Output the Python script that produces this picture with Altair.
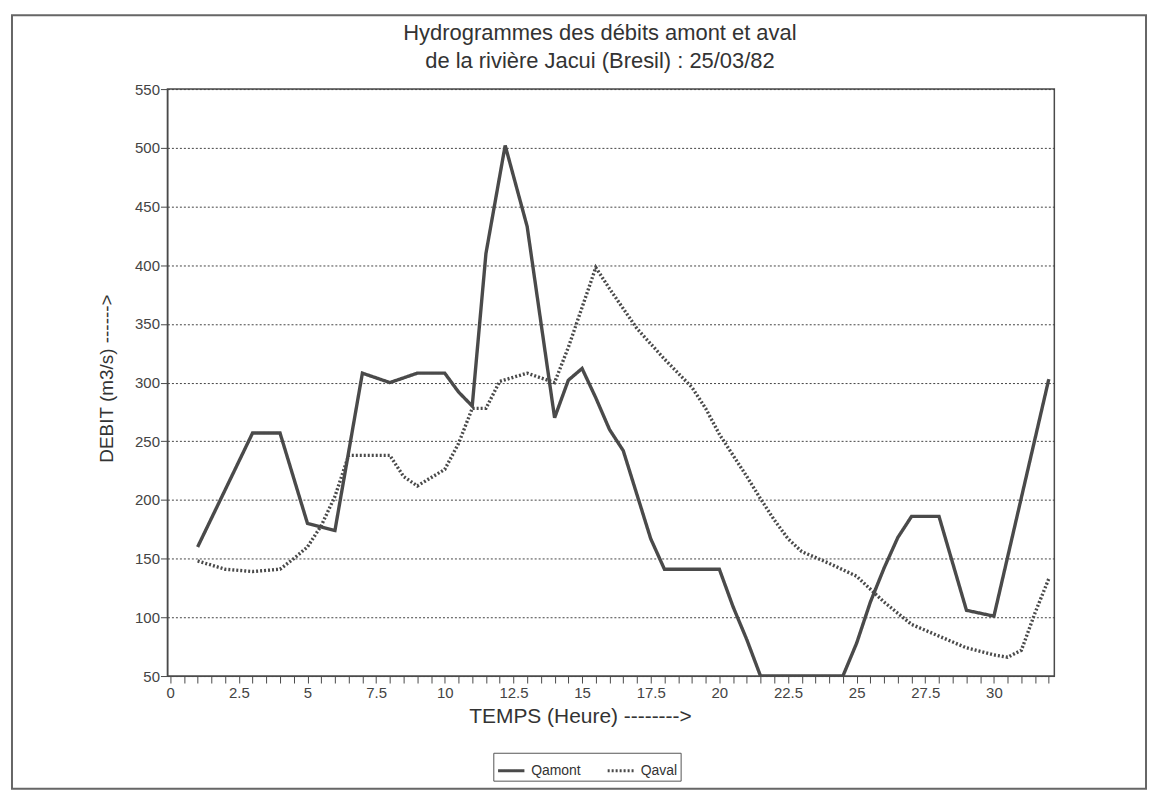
import altair as alt
import pandas as pd

# ---- data ----
amont_t = [1, 3, 4, 5, 6, 7, 8, 9, 10, 10.5, 11, 11.5, 12.2, 13, 14, 14.5, 15, 15.5,
           16, 16.5, 17.5, 18, 20, 20.5, 21, 21.5, 24.5, 25, 25.5, 26, 26.5, 27, 28,
           29, 30, 32]
amont_q = [160, 257, 257, 180, 174, 308, 300, 308, 308, 292, 280, 410, 502, 433, 270, 302, 312, 287,
           260, 242, 167, 141, 141, 109, 81, 50, 50, 78, 113, 142, 168, 186, 186,
           106, 101, 303]

aval_t = [1, 2, 3, 4, 4.5, 5, 5.5, 6, 6.5, 8, 8.5, 9, 10, 10.5, 11, 11.5, 12, 13, 14,
          14.5, 15, 15.5, 16, 17, 18, 19, 19.5, 20, 20.5, 21, 21.5, 22, 22.5, 23, 24,
          25, 25.5, 26, 27, 28, 29, 30, 30.5, 31, 31.5, 32]
aval_q = [148, 141, 139, 141, 150, 160, 178, 203, 238, 238, 220, 212, 226, 248, 278, 278, 301, 308, 300,
          330, 364, 398, 380, 346, 320, 296, 278, 256, 238, 220, 201, 183, 167, 156, 146,
          135, 124, 113, 94, 84, 74, 68, 66, 72, 104, 133]

series_names = ["Qamont", "Qaval"]
y_ticks = [50, 100, 150, 200, 250, 300, 350, 400, 450, 500, 550]
x_ticks = [i * 0.5 for i in range(0, 65)]

title_lines = ["Hydrogrammes des débits amont et aval",
               "de la rivière Jacui (Bresil) : 25/03/82"]
x_title = "TEMPS (Heure)    -------->"
y_title = "DEBIT (m3/s)   ------>"

rows = []
for t, q in zip(amont_t, amont_q):
    rows.append({"t": t, "q": q, "serie": series_names[0]})
for t, q in zip(aval_t, aval_q):
    rows.append({"t": t, "q": q, "serie": series_names[1]})
df = pd.DataFrame(rows)

FONT = "Liberation Sans"
INK = "#4a4a4a"

lines = alt.Chart(df).mark_line(strokeWidth=3.4, color=INK, clip=True).encode(
    x=alt.X("t:Q",
            scale=alt.Scale(domain=[-0.1, 32.2], nice=False, zero=False),
            axis=alt.Axis(values=x_ticks, title=x_title,
                          labelExpr="datum.value % 2.5 === 0 ? format(datum.value, '~g') : ''",
                          labelOverlap=False, labelFlush=False, grid=False,
                          tickSize=7, labelPadding=3, labelFontSize=15,
                          titleFontSize=21, titleFontWeight="normal",
                          titleX=414, titleY=41, titleBaseline="middle",
                          domainColor=INK, tickColor=INK, labelColor="#444",
                          titleColor="#333")),
    y=alt.Y("q:Q",
            scale=alt.Scale(domain=[50, 550], nice=False, zero=False),
            axis=alt.Axis(values=y_ticks, title=y_title,
                          grid=True, gridDash=[2, 2], gridColor="#444", gridWidth=1,
                          tickSize=7, labelPadding=1, labelFontSize=15,
                          titleFontSize=19, titleFontWeight="normal",
                          titleX=-61, titleY=290, titleAngle=-90,
                          titleAlign="center", titleBaseline="middle",
                          domainColor=INK, tickColor=INK, labelColor="#444",
                          titleColor="#333")),
    strokeDash=alt.StrokeDash("serie:N",
                              scale=alt.Scale(domain=series_names, range=[[1, 0], [2, 2]]),
                              legend=alt.Legend(title=None, orient="none",
                                                legendX=327, legendY=666,
                                                direction="horizontal",
                                                strokeColor="#555", padding=3,
                                                symbolType="stroke", symbolSize=700,
                                                symbolStrokeWidth=3,
                                                symbolStrokeColor=INK,
                                                labelFontSize=14, labelColor="#333",
                                                columnPadding=20, labelOffset=5)),
)

frame = alt.Chart(pd.DataFrame({"k": [0]})).mark_rect(
    fill=None, stroke="#666", strokeWidth=2).encode(
    x=alt.value(-156), x2=alt.value(982), y=alt.value(-74), y2=alt.value(702))

title_df = pd.DataFrame({"line": title_lines, "row": [0, 1]})
title = alt.Chart(title_df).mark_text(
    fontSize=22, color="#333", font=FONT, align="center", baseline="middle").encode(
    text="line:N",
    x=alt.value(434),
    y=alt.Y("row:Q", scale=alt.Scale(domain=[0, 1], range=[-56, -28]), axis=None),
)

chart = alt.layer(frame, lines, title).resolve_scale(y="independent").properties(
    width=890, height=589,
    autosize=alt.AutoSizeParams(type="none"),
    padding={"left": 160, "top": 80, "right": 95, "bottom": 117},
).configure(font=FONT).configure_view(stroke=INK, strokeWidth=1.5)

chart.save("out.html", embed_options={"renderer": "svg", "actions": False})
